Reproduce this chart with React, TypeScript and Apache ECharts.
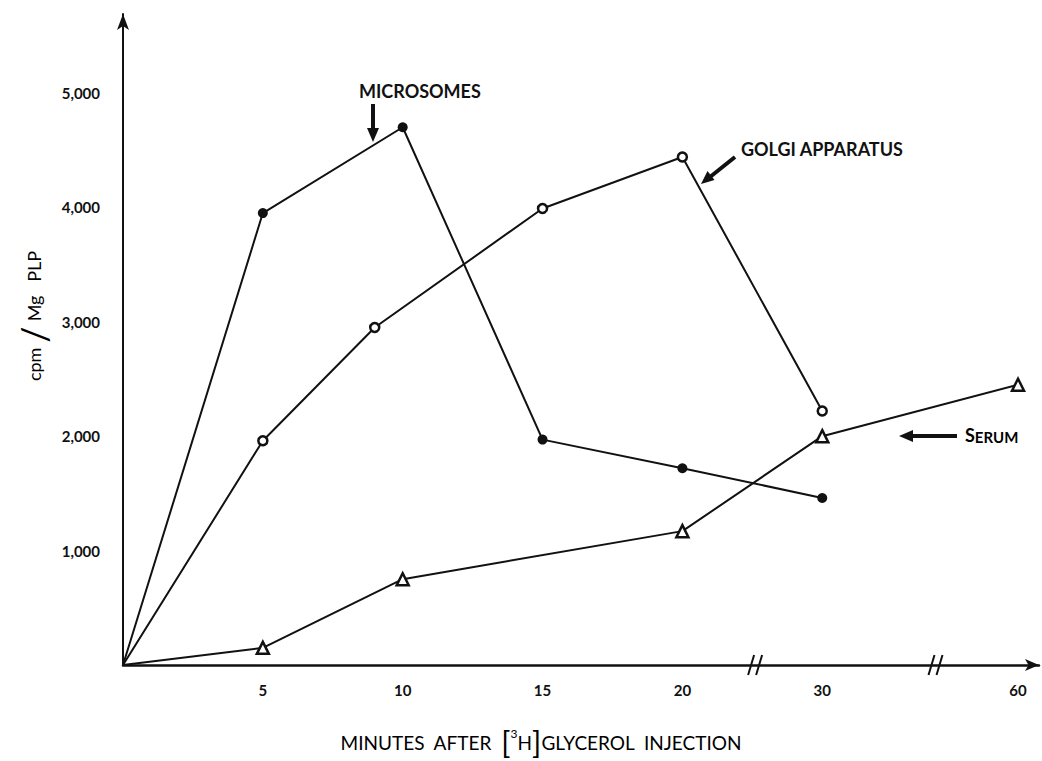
import React, { useEffect, useRef } from "react";
import * as echarts from "echarts";

// tick minutes shown on the broken x axis and their axis positions
const tickMinutes = [5, 10, 15, 20, 30, 60];
const tickPositions = [5, 10, 15, 20, 25, 32];
const breakPositions = [22.6, 29.05];

const yTicks = [1000, 2000, 3000, 4000, 5000];

const microTimes = [0, 5, 10, 15, 20, 30];
const microValues = [0, 3950, 4700, 1970, 1720, 1460];

const golgiTimes = [0, 5, 9, 15, 20, 30];
const golgiValues = [0, 1960, 2950, 3990, 4440, 2220];

const serumTimes = [0, 5, 10, 20, 30, 60];
const serumValues = [0, 150, 750, 1170, 2000, 2450];

function pos(t: number): number {
  if (t <= 20) return t;
  const i = tickMinutes.indexOf(t);
  return tickPositions[i];
}

function buildData(times: number[], values: number[]) {
  return times.map((t, i) => {
    const item: any = { value: [pos(t), values[i]] };
    if (t === 0) item.symbol = "none";
    return item;
  });
}

const FONT = "Lato, 'DejaVu Sans', sans-serif";
const INK = "#111";

export default function App() {
  const ref = useRef<HTMLDivElement>(null);
  useEffect(() => {
    document.body.style.margin = "0";
    if (!ref.current) return;
    const chart = echarts.init(ref.current, null, { renderer: "svg" });
    const lineStyle = { color: INK, width: 2 };
    const option: any = {
      animation: false,
      backgroundColor: "#fff",
      grid: { left: 123, top: 14, right: 2, bottom: 96, containLabel: false },
      xAxis: {
        type: "value",
        min: 0,
        max: 32.75,
        interval: 1,
        splitLine: { show: false },
        axisTick: { show: false },
        axisLine: {
          show: true,
          lineStyle: { color: INK, width: 2.5 },
          symbol: ["none", "arrow"],
          symbolSize: [9, 14],
        },
        axisLabel: {
          show: true,
          margin: 17,
          color: INK,
          fontFamily: FONT,
          fontWeight: "bold",
          fontSize: 15,
          showMinLabel: true,
          showMaxLabel: true,
          formatter: (v: number) => {
            const i = tickPositions.findIndex((p) => Math.abs(p - v) < 1e-6);
            return i >= 0 ? String(tickMinutes[i]) : "";
          },
        },
      },
      yAxis: {
        type: "value",
        min: 0,
        max: 5690,
        interval: 1000,
        splitLine: { show: false },
        axisTick: { show: false },
        axisLine: {
          show: true,
          lineStyle: { color: INK, width: 2 },
          symbol: ["none", "arrow"],
          symbolSize: [9, 16],
        },
        axisLabel: {
          margin: 23,
          color: INK,
          fontFamily: FONT,
          fontWeight: "bold",
          fontSize: 15,
          showMinLabel: false,
          showMaxLabel: false,
          formatter: (v: number) =>
            yTicks.includes(v) ? v.toLocaleString("en-US") : "",
        },
      },
      series: [
        {
          name: "Microsomes",
          type: "line",
          data: buildData(microTimes, microValues),
          symbol: "circle",
          symbolSize: 10,
          itemStyle: { color: INK },
          lineStyle,
          z: 3,
        },
        {
          name: "Golgi apparatus",
          type: "line",
          data: buildData(golgiTimes, golgiValues),
          symbol: "circle",
          symbolSize: 9,
          showAllSymbol: true,
          itemStyle: { color: "#fff", borderColor: INK, borderWidth: 2.5 },
          lineStyle,
          z: 3,
        },
        {
          name: "Serum",
          type: "line",
          data: buildData(serumTimes, serumValues),
          symbol: "triangle",
          symbolSize: 12,
          itemStyle: { color: "#fff", borderColor: INK, borderWidth: 2.5 },
          lineStyle,
          z: 3,
        },
        {
          name: "breaks",
          type: "custom",
          clip: false,
          silent: true,
          z: 5,
          data: breakPositions.map((p) => [p, 0]),
          renderItem: (params: any, api: any) => {
            const c = api.coord([api.value(0), api.value(1)]);
            const mk = (dx: number) => ({
              type: "line",
              shape: { x1: c[0] + dx - 3, y1: c[1] + 10, x2: c[0] + dx + 3, y2: c[1] - 10 },
              style: { stroke: INK, lineWidth: 2 },
            });
            return { type: "group", children: [mk(-4), mk(4)] };
          },
        },
      ],
      graphic: [
        // MICROSOMES label + arrow
        {
          type: "text",
          left: 359,
          top: 82,
          style: { text: "MICROSOMES", fill: INK, font: `bold 18px ${FONT}` },
        },
        {
          type: "line",
          shape: { x1: 373, y1: 104, x2: 373, y2: 130 },
          style: { stroke: INK, lineWidth: 4 },
        },
        {
          type: "polygon",
          shape: { points: [[367, 128], [379, 128], [373, 142]] },
          style: { fill: INK },
        },
        // GOLGI APPARATUS label + arrow
        {
          type: "text",
          left: 741,
          top: 140,
          style: { text: "GOLGI APPARATUS", fill: INK, font: `bold 18px ${FONT}` },
        },
        {
          type: "line",
          shape: { x1: 735, y1: 157, x2: 710, y2: 177 },
          style: { stroke: INK, lineWidth: 4 },
        },
        {
          type: "polygon",
          shape: { points: [[714.5, 180], [707.5, 171], [701, 184]] },
          style: { fill: INK },
        },
        // SERUM label + arrow
        {
          type: "text",
          left: 965,
          top: 426,
          style: {
            text: "{b|S}{s|ERUM}",
            rich: {
              b: { fontFamily: FONT, fontWeight: "bold", fontSize: 18, color: INK },
              s: { fontFamily: FONT, fontWeight: "bold", fontSize: 15, color: INK, verticalAlign: "bottom" },
            },
          },
        },
        {
          type: "line",
          shape: { x1: 957, y1: 436, x2: 911, y2: 436 },
          style: { stroke: INK, lineWidth: 4 },
        },
        {
          type: "polygon",
          shape: { points: [[913, 430], [913, 442], [899, 436]] },
          style: { fill: INK },
        },
        // y axis title
        {
          type: "text",
          x: 34,
          y: 316,
          rotation: Math.PI / 2,
          style: {
            text: "{a|cpm}{sl|/}{a|Mg   PLP}",
            align: "center",
            verticalAlign: "middle",
            rich: {
              a: { fontFamily: FONT, fontSize: 18, color: INK, fontWeight: "normal" },
              sl: { fontFamily: FONT, fontSize: 36, color: INK, fontWeight: "normal", padding: [0, 5, 0, 5] },
            },
          },
        },
        // x axis title
        {
          type: "text",
          x: 541,
          y: 742,
          style: {
            text: "{a|MINUTES  AFTER  }{br|[}{sup|3}{a|H}{br|]}{a|GLYCEROL  INJECTION}",
            align: "center",
            verticalAlign: "middle",
            rich: {
              a: { fontFamily: FONT, fontSize: 19, color: INK },
              br: { fontFamily: FONT, fontSize: 30, color: INK, fontWeight: "normal" },
              sup: { fontFamily: FONT, fontSize: 12, color: INK, verticalAlign: "top", padding: [0, 0, 10, 0] },
            },
          },
        },
      ],
    };
    chart.setOption(option);
    return () => chart.dispose();
  }, []);
  return <div ref={ref} style={{ width: 1042, height: 761 }} />;
}
